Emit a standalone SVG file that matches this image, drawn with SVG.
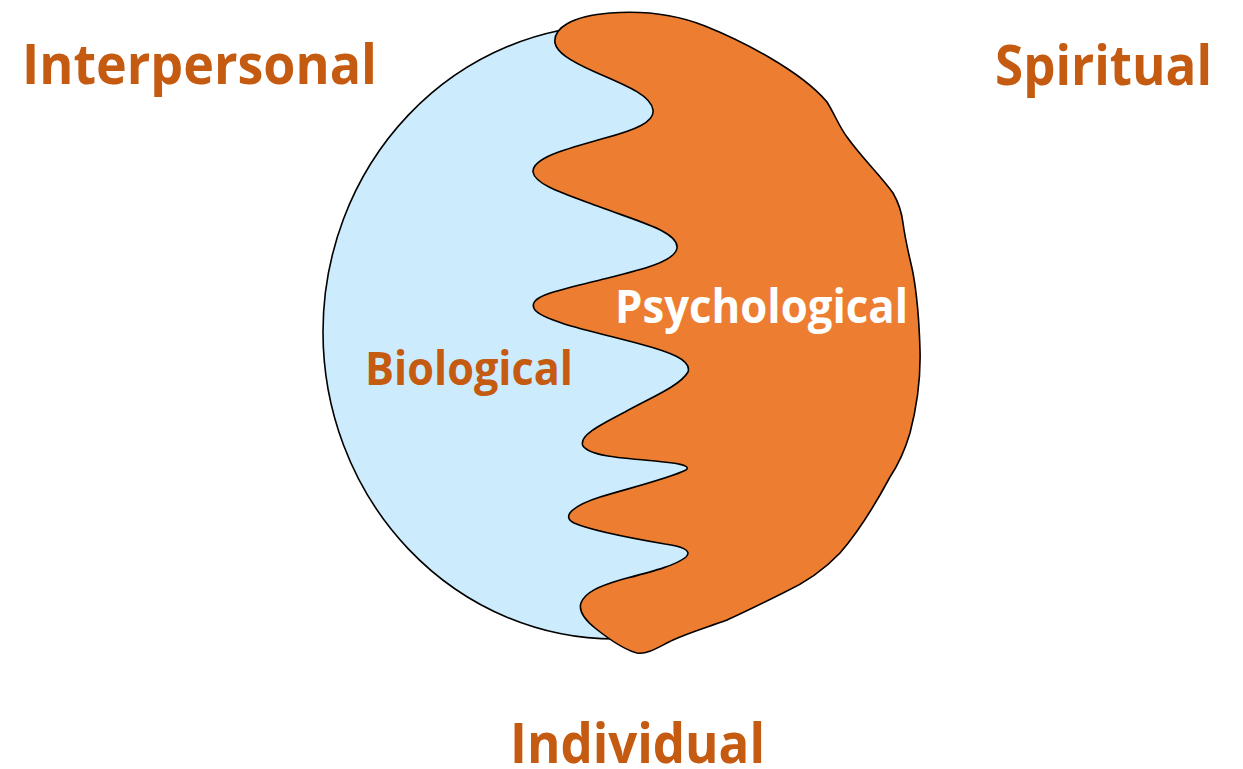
<svg xmlns="http://www.w3.org/2000/svg" width="1243" height="769" viewBox="0 0 1243 769">
<style>
.lbl{font-family:"Open Sans","Liberation Sans",sans-serif;font-weight:bold;fill:#C55A11}
.big{font-size:56px}
.mid{font-size:46px}
.wht{fill:#FFFFFF}
.shape{stroke:#000;stroke-width:1.6}
</style>
<rect width="1243" height="769" fill="#FFFFFF"/>
<g id="biological">
<ellipse class="shape" cx="615" cy="332" rx="292" ry="307" fill="#CCEBFD"/>
</g>
<g id="psychological">
<path class="shape" fill="#ED7D31" d="M555,43 C553,28 572,16 610,13 C650,10 680,16 705,26 C740,40 800,70 827,102 C835,115 840,128 847,137 C862,158 880,175 893,193 C900,205 902,215 903,223 C906,245 910,258 913,273 C917,295 919,315 920,350 C921,385 916,410 910,433 C905,450 898,465 890,477 C875,505 860,530 840,553 C822,572 805,583 783,593 C765,602 745,612 727,620 C705,628 688,633 673,640 C660,646 648,655 637,653 C625,650 610,640 595,628 C585,620 578,612 581,603 C585,592 600,586 620,580 C650,572 675,566 686,557 C693,550 680,546 665,544 C630,538 590,530 574,523 C560,516 575,505 600,497 C630,488 670,478 686,470 C692,465 675,463 655,461 C620,458 590,456 583,446 C578,436 600,425 625,412 C650,398 680,386 688,372 C692,360 670,352 640,344 C600,333 545,322 535,310 C525,296 560,290 600,280 C640,270 675,262 677,248 C679,232 640,222 600,207 C565,194 535,185 533,172 C532,157 570,148 605,138 C635,130 655,122 653,110 C651,95 625,85 595,72 C568,60 557,52 555,43 Z"/>
</g>
<g id="labels">
<text class="lbl big" x="22" y="84" textLength="355" lengthAdjust="spacingAndGlyphs">Interpersonal</text>
<text class="lbl big" x="995" y="85" textLength="217" lengthAdjust="spacingAndGlyphs">Spiritual</text>
<text class="lbl big" x="510" y="763" textLength="255" lengthAdjust="spacingAndGlyphs">Individual</text>
<text class="lbl mid" x="365" y="385" textLength="208" lengthAdjust="spacingAndGlyphs">Biological</text>
<text class="lbl mid wht" x="615" y="323" textLength="293" lengthAdjust="spacingAndGlyphs">Psychological</text>
</g>
<g id="connectors"/>
</svg>
